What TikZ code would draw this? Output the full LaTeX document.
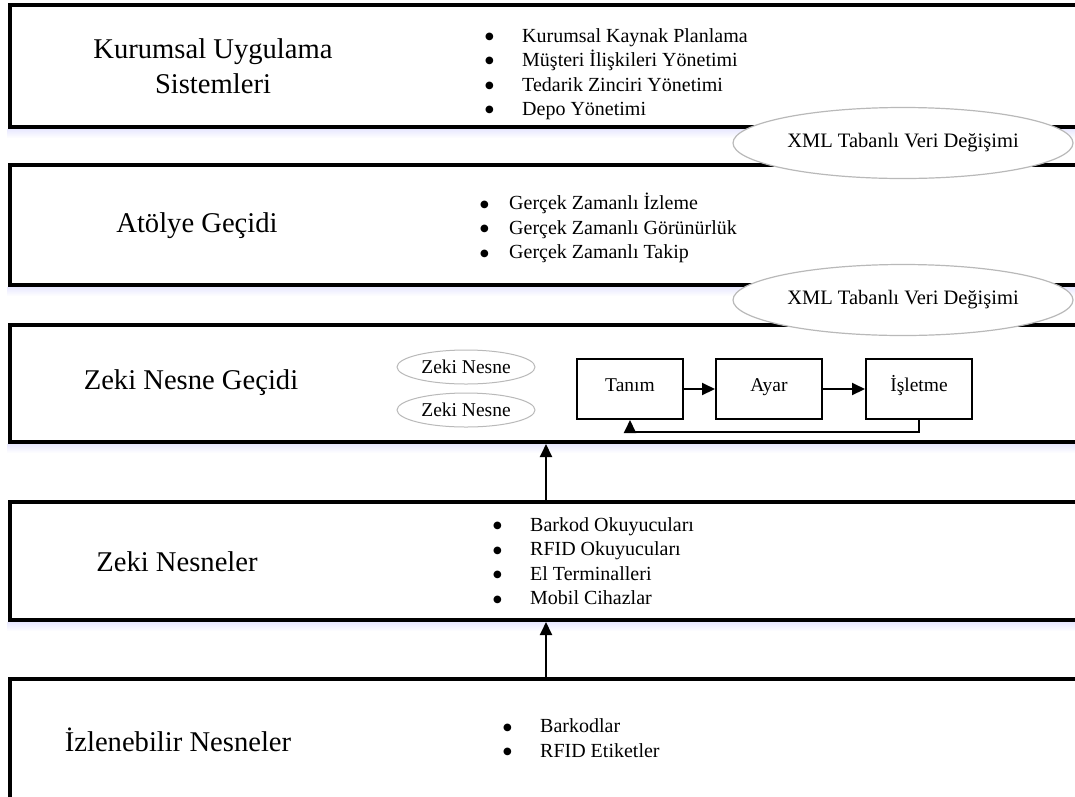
\documentclass[tikz,border=0pt]{standalone}
\usepackage{fontspec}
\setmainfont{Liberation Serif}
\newfontfamily\symfont{DejaVu Sans}
\usetikzlibrary{arrows.meta,shapes.geometric,calc}

% bullet followed by its text, the text starting #1 after the bullet
\newcommand\bulletitem[2]{\makebox[#1][l]{\raisebox{2.6pt}{\symfont\fontsize{10}{10}\selectfont ●}}#2}

\begin{document}
\begin{tikzpicture}[x=1pt,y=-1pt]
\tikzset{
  layer/.style={draw=black, line width=4pt, fill=white, anchor=north west,
    inner sep=0pt, minimum width=1090pt, minimum height=#1},
  shadowband/.style={top color=blue!9, bottom color=white, draw=none},
  title/.style={font=\fontsize{28.6}{35}\selectfont, align=center, inner sep=0pt},
  items/.style={font=\fontsize{20}{24.5}\selectfont, align=left, anchor=west, inner sep=0pt},
  xml/.style={ellipse, draw=gray!55, line width=1.2pt, fill=white,
    minimum width=340pt, minimum height=71pt, inner sep=0pt,
    font=\fontsize{20.5}{22}\selectfont},
  obj/.style={ellipse, draw=gray!55, line width=1pt, fill=white,
    minimum width=138pt, minimum height=34pt, inner sep=0pt,
    font=\fontsize{19.5}{22}\selectfont},
  stage/.style={draw=black, line width=2pt, fill=white, minimum width=106pt,
    minimum height=60pt, inner sep=0pt, text height=0.72em, text depth=0.22em,
    font=\fontsize{19.5}{22}\selectfont},
  arr/.style={line width=2pt, -{Triangle[length=13pt,width=12pt]}},
}
\clip (0,0) rectangle (1075,796);
\fill[white] (0,0) rectangle (1075,796);

% the five layers
\node[layer=122pt] (box1) at (8,3) {};
\node[layer=120pt] (box2) at (8,163) {};
\node[layer=117pt] (box3) at (8,323) {};
\node[layer=118pt] (box4) at (8,500) {};
\node[layer=121pt] (box5) at (8,677) {};

% soft shadows under the layers
\foreach \b in {box1,box2,box3,box4}
  \shade[shadowband] ($(\b.south west)+(-1,0)$) rectangle ($(\b.south east)+(0,9)$);

% layer titles
\node[title] (t1) at (213,66) {Kurumsal Uygulama\\Sistemleri};
\node[title] (t2) at (197,226) {Atölye Geçidi};
\node[title] (t3) at (191,383) {Zeki Nesne Geçidi};
\node[title] (t4) at (177,562) {Zeki Nesneler};
\node[title] (t5) at (178,740) {İzlenebilir Nesneler};

% item lists
\node[items] (l1) at (485,74) {\bulletitem{37pt}{Kurumsal Kaynak Planlama}\\
  \bulletitem{37pt}{Müşteri İlişkileri Yönetimi}\\
  \bulletitem{37pt}{Tedarik Zinciri Yönetimi}\\
  \bulletitem{37pt}{Depo Yönetimi}};
\node[items] (l2) at (480,228) {\bulletitem{29pt}{Gerçek Zamanlı İzleme}\\
  \bulletitem{29pt}{Gerçek Zamanlı Görünürlük}\\
  \bulletitem{29pt}{Gerçek Zamanlı Takip}};
\node[items] (l4) at (493,561) {\bulletitem{37pt}{Barkod Okuyucuları}\\
  \bulletitem{37pt}{RFID Okuyucuları}\\
  \bulletitem{37pt}{El Terminalleri}\\
  \bulletitem{37pt}{Mobil Cihazlar}};
\node[items] (l5) at (503,738) {\bulletitem{37pt}{Barkodlar}\\
  \bulletitem{37pt}{RFID Etiketler}};

% data exchange between layers
\node[xml] (x1) at (903,143) {XML Tabanlı Veri Değişimi};
\node[xml] (x2) at (903,300) {XML Tabanlı Veri Değişimi};

% gateway contents
\node[obj] (z1) at (466,367) {Zeki Nesne};
\node[obj] (z2) at (466,410) {Zeki Nesne};
\node[stage] (tanim) at (630,389) {Tanım};
\node[stage] (ayar) at (769,389) {Ayar};
\node[stage] (isletme) at (919,389) {İşletme};
\draw[arr] (tanim) -- (ayar);
\draw[arr] (ayar) -- (isletme);
\draw[arr] (isletme.south) -- ++(0,12) -| (tanim.south);

% upward flow between layers
\coordinate (up) at (546,0);
\draw[arr] (box4.north -| up) -- (box3.south -| up);
\draw[arr] (box5.north -| up) -- (box4.south -| up);
\end{tikzpicture}
\end{document}
